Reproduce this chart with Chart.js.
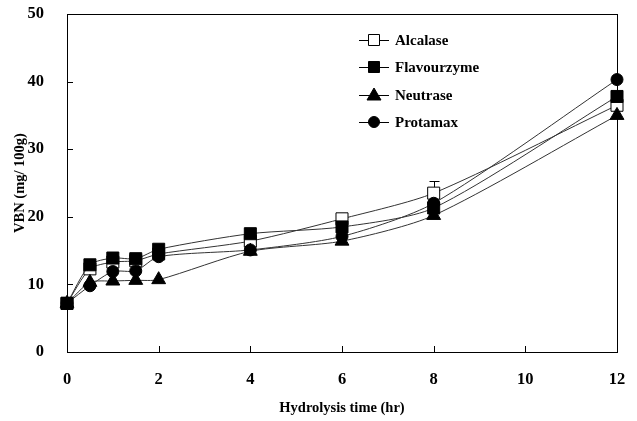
<!DOCTYPE html>
<html>
<head>
<meta charset="utf-8">
<script src="https://cdn.jsdelivr.net/npm/chart.js@4/dist/chart.umd.min.js"></script>
<style>
  html, body { margin: 0; padding: 0; background: #fff; }
  #wrap { width: 637px; height: 421px; }
</style>
</head>
<body>
<div id="wrap"><canvas id="vbnChart" width="637" height="421"></canvas></div>
<script>
// hydrolysis time (hr)
const times = [0, 0.5, 1, 1.5, 2, 4, 6, 8, 12];

// VBN (mg/100g)
const alcalase    = [7.2, 12.3, 13.3, 13.5, 14.5, 16.4, 19.7, 23.5, 36.5];
const flavourzyme = [7.2, 12.9, 13.9, 13.8, 15.2, 17.5, 18.5, 21.3, 37.8];
const neutrase    = [7.2, 10.3, 10.5, 10.6, 10.7, 14.9, 16.4, 20.2, 35.0];
const protamax    = [7.2, 9.8, 11.9, 12.0, 14.1, 15.1, 17.1, 22.0, 40.3];

// upper error bars (only visible ones)
const alcalaseErr = [0, 1.3, 0, 0, 0, 0, 0, 1.8, 0];

const xTicks = [0, 2, 4, 6, 8, 10, 12];
const yTicks = [0, 10, 20, 30, 40, 50];

const FONT = "'Liberation Serif', 'Times New Roman', serif";

function pts(vals){
    return times.map((t, i) => ({x: t, y: vals[i]}));
}

function drawMarker(ctx, style, x, y, filled){
    ctx.save();
    ctx.fillStyle = filled ? "#000" : "#fff";
    ctx.strokeStyle = "#000";
    ctx.lineWidth = 1;
    ctx.beginPath();
    if(style === "rect"){
        ctx.rect(x - 5.5, y - 5.5, 11, 11);
    }else if(style === "triangle"){
        ctx.moveTo(x, y - 7);
        ctx.lineTo(x + 7, y + 5);
        ctx.lineTo(x - 7, y + 5);
        ctx.closePath();
    }else{
        ctx.arc(x, y, 5.5, 0, Math.PI * 2);
    }
    ctx.fill();
    ctx.stroke();
    ctx.restore();
}

// order: lower number is drawn on top
const series = [
    {label: "Alcalase",    data: alcalase,    style: "rect",     filled: false, order: 4},
    {label: "Flavourzyme", data: flavourzyme, style: "rect",     filled: true,  order: 1},
    {label: "Neutrase",    data: neutrase,    style: "triangle", filled: true,  order: 3},
    {label: "Protamax",    data: protamax,    style: "circle",   filled: true,  order: 2}
];

const framePlugin = {
    id: "frame",
    beforeDatasetsDraw(chart){
        const {ctx, chartArea: a, scales} = chart;
        ctx.save();
        ctx.strokeStyle = "#000";
        ctx.lineWidth = 1;
        ctx.strokeRect(a.left + 0.5, a.top + 0.5, a.right - a.left, a.bottom - a.top);
        // inward ticks
        ctx.beginPath();
        xTicks.forEach(v => {
            const px = Math.round(scales.x.getPixelForValue(v)) + 0.5;
            ctx.moveTo(px, a.bottom);
            ctx.lineTo(px, a.bottom - 6);
        });
        yTicks.forEach(v => {
            const py = Math.round(scales.y.getPixelForValue(v)) + 0.5;
            ctx.moveTo(a.left, py);
            ctx.lineTo(a.left + 6, py);
        });
        ctx.stroke();
        // error bars
        ctx.beginPath();
        alcalaseErr.forEach((e, i) => {
            if(!e) return;
            const px = Math.round(scales.x.getPixelForValue(times[i])) + 0.5;
            const y0 = scales.y.getPixelForValue(alcalase[i]);
            const y1 = Math.round(scales.y.getPixelForValue(alcalase[i] + e)) + 0.5;
            ctx.moveTo(px, y0);
            ctx.lineTo(px, y1);
            ctx.moveTo(px - 5, y1);
            ctx.lineTo(px + 5, y1);
        });
        ctx.stroke();
        ctx.restore();
    },
    afterDatasetsDraw(chart){
        const ctx = chart.ctx;
        const lx = 359, tx = 395;
        const rows = [40, 67, 95, 122];
        ctx.save();
        series.forEach((s, i) => {
            const y = rows[i];
            ctx.strokeStyle = "#000";
            ctx.lineWidth = 1;
            ctx.beginPath();
            ctx.moveTo(lx, y + 0.5);
            ctx.lineTo(lx + 30, y + 0.5);
            ctx.stroke();
            drawMarker(ctx, s.style, lx + 15, y, s.filled);
            ctx.fillStyle = "#000";
            ctx.font = "bold 15px " + FONT;
            ctx.textBaseline = "middle";
            ctx.fillText(s.label, tx, y + 1);
        });
        ctx.restore();
    }
};

new Chart(document.getElementById("vbnChart"), {
    type: "line",
    data: {
        datasets: series.map(s => ({
            label: s.label,
            data: pts(s.data),
            order: s.order,
            borderColor: "#333",
            borderWidth: 1,
            tension: 0.25,
            clip: false,
            pointStyle: s.style,
            pointRadius: s.style === "rect" ? 8.5 : (s.style === "triangle" ? 8 : 6),
            pointBackgroundColor: s.filled ? "#000" : "#fff",
            pointBorderColor: "#000",
            pointBorderWidth: 1,
            fill: false
        }))
    },
    options: {
        responsive: false,
        animation: false,
        layout: {padding: {top: 14, right: 20, left: 0, bottom: 0}},
        plugins: {
            legend: {display: false},
            tooltip: {enabled: false}
        },
        scales: {
            x: {
                type: "linear",
                min: 0,
                max: 12,
                afterBuildTicks(axis){ axis.ticks = xTicks.map(v => ({value: v})); },
                afterFit(axis){
                    axis.height = 69;
                    axis.paddingLeft = 0;
                    axis.paddingRight = 0;
                },
                grid: {display: false},
                border: {display: false},
                ticks: {
                    color: "#000",
                    padding: 10,
                    maxRotation: 0,
                    font: {family: FONT, size: 16.5, weight: "bold"}
                },
                title: {
                    display: true,
                    text: "Hydrolysis time (hr)",
                    color: "#000",
                    padding: {top: 4},
                    font: {family: FONT, size: 14.5, weight: "bold"}
                }
            },
            y: {
                min: 0,
                max: 50,
                afterBuildTicks(axis){ axis.ticks = yTicks.map(v => ({value: v})); },
                afterFit(axis){
                    axis.width = 67;
                    axis.paddingTop = 0;
                    axis.paddingBottom = 0;
                },
                grid: {display: false},
                border: {display: false},
                ticks: {
                    color: "#000",
                    padding: 15,
                    font: {family: FONT, size: 16.5, weight: "bold"}
                },
                title: {
                    display: true,
                    text: "VBN (mg/ 100g)",
                    color: "#000",
                    padding: {top: 12, bottom: 0},
                    font: {family: FONT, size: 14.5, weight: "bold"}
                }
            }
        }
    },
    plugins: [framePlugin]
});
</script>
</body>
</html>
